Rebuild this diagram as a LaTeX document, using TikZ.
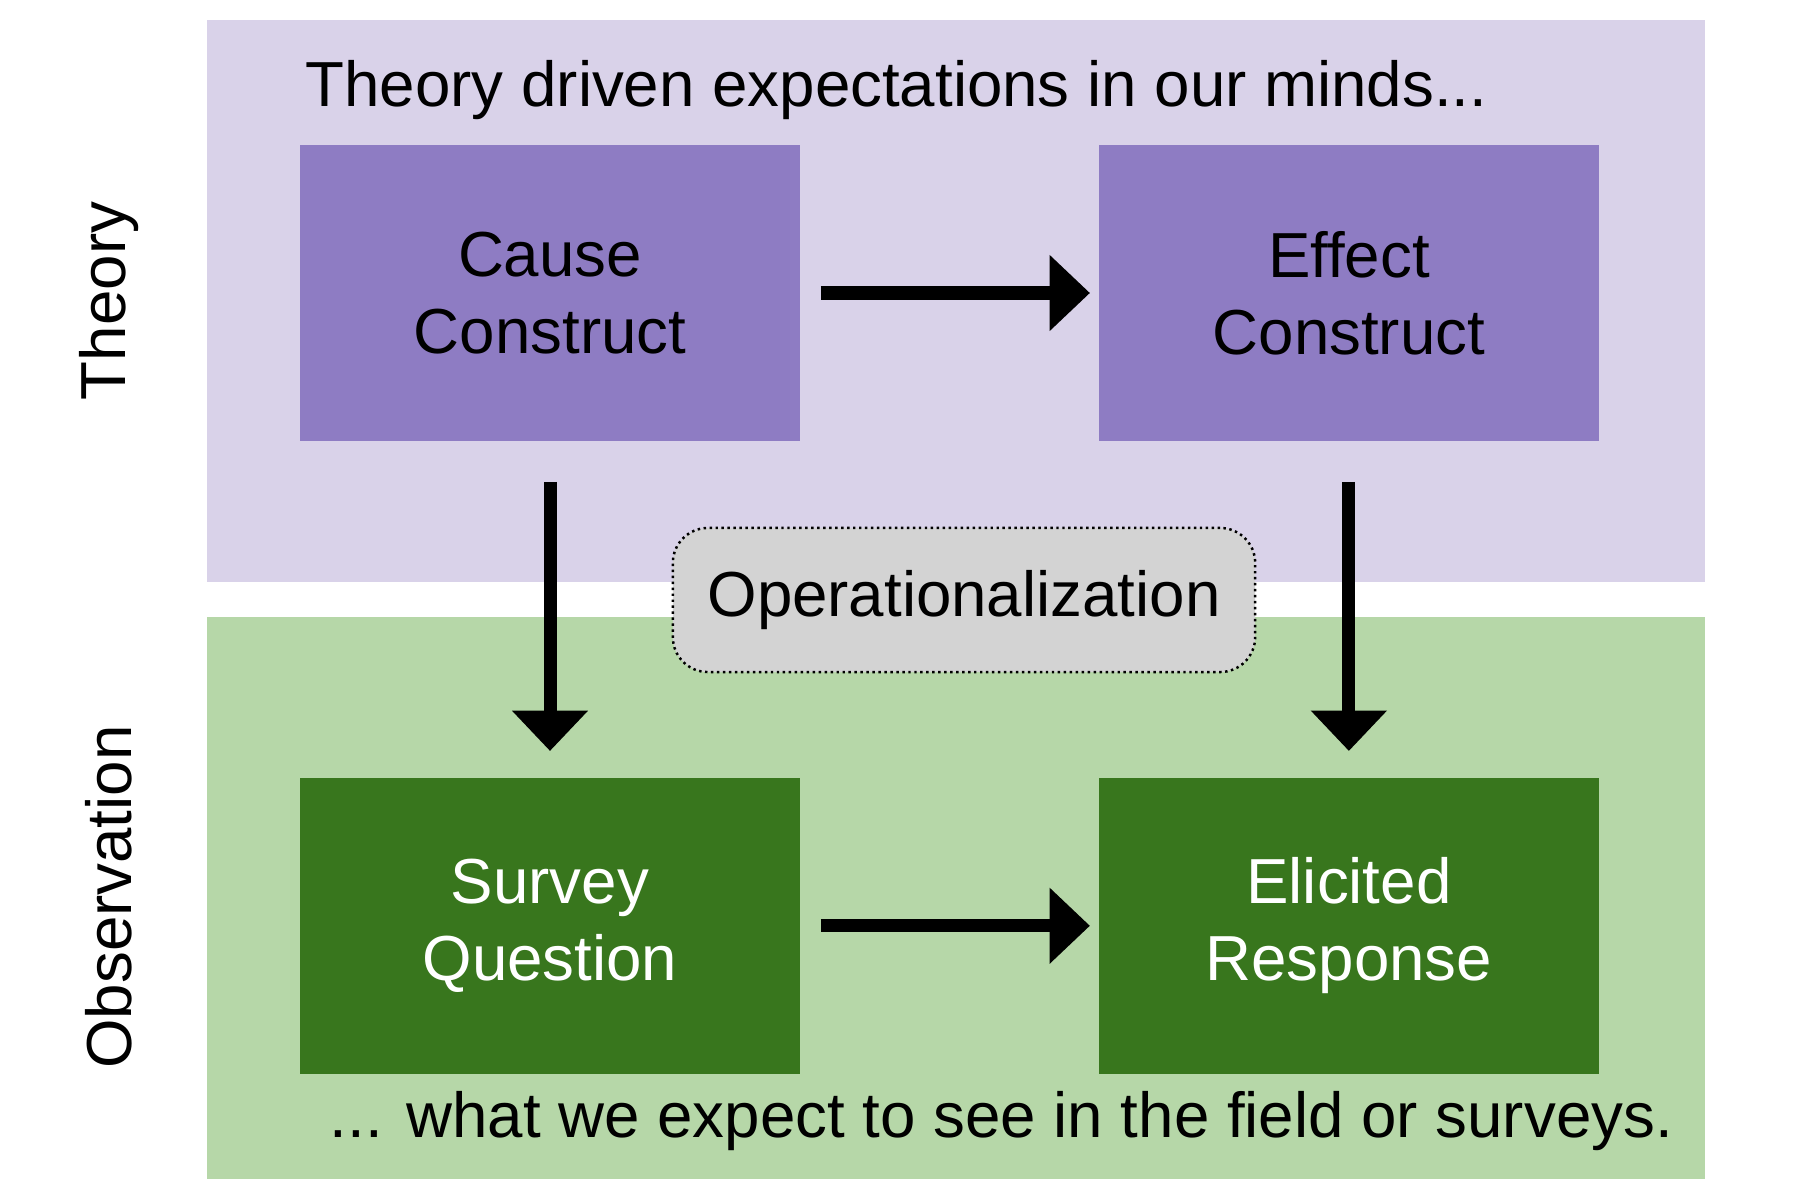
\documentclass[tikz,border=0pt]{standalone}
\usepackage{fontspec}
\setmainfont{Liberation Sans}
\usetikzlibrary{arrows.meta,positioning}

\definecolor{theorybg}{HTML}{D9D2E9}
\definecolor{theorybox}{HTML}{8E7CC3}
\definecolor{obsbg}{HTML}{B6D7A8}
\definecolor{obsbox}{HTML}{38761D}
\definecolor{opfill}{HTML}{D3D3D3}

\begin{document}
\begin{tikzpicture}[
  x=0.01cm, y=-0.01cm,
  font=\fontsize{18.1}{22}\selectfont,
  node distance=3.35cm and 2.97cm,
  construct/.style={rectangle, fill=theorybox, align=center, minimum width=5cm, minimum height=2.96cm, inner sep=0pt},
  measure/.style={construct, fill=obsbox, text=white},
  line/.style={-{Triangle[length=11.5pt,width=21pt]}, line width=3.7pt}
]
\useasboundingbox (0,0) rectangle (1800,1200);
\fill[theorybg] (207,20) rectangle (1705,582);
\fill[obsbg] (207,617) rectangle (1705,1179);

\node[rotate=90] (theorylbl) at (109,301) {Theory};
\node[rotate=90] (obslbl) at (109,897) {Observation};

\node[anchor=base west, inner sep=0pt] (title) at (305,106) {Theory driven expectations in our minds...};
\node[anchor=base west, inner sep=0pt] (footer) at (329,1137) {... what we expect to see in the field or surveys.};

\node[construct] (cause) at (550,293) {Cause\\Construct};
\node[construct, right=of cause] (effect) {Effect\\Construct};
\node[measure, below=of cause] (survey) {Survey\\Question};
\node[measure, right=of survey] (response) {Elicited\\Response};

\draw[line, shorten <=5.7pt, shorten >=2.3pt] (cause) -- (effect);
\draw[line, shorten <=5.7pt, shorten >=2.3pt] (survey) -- (response);
\draw[line, shorten <=11.4pt, shorten >=7.4pt] (cause) -- (survey);
\draw[line, shorten <=11.4pt, shorten >=7.4pt] (effect) -- (response);

\node[rectangle, rounded corners=0.35cm, draw, densely dotted, line width=0.7pt, fill=opfill, minimum width=5.82cm, minimum height=1.44cm] (oper) at (964,600) {Operationalization};
\end{tikzpicture}
\end{document}
